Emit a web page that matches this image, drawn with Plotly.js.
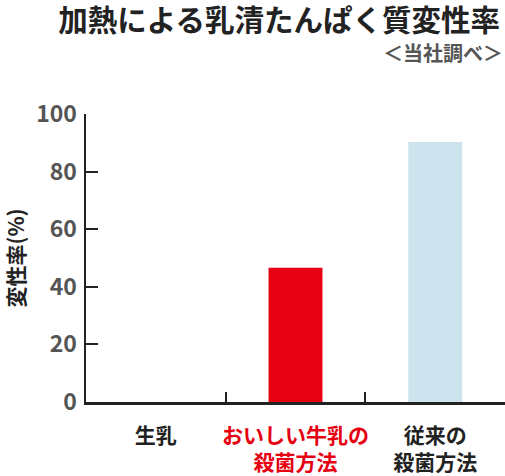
<!DOCTYPE html>
<html>
<head>
<meta charset="utf-8">
<script src="https://cdn.plot.ly/plotly-3.0.1.min.js"></script>
<style>
  html, body { margin: 0; padding: 0; background: #fff; }
  #chart { width: 505px; height: 476px; }
</style>
</head>
<body>
<div id="chart"></div>
<script>
// data
const categories = ['生乳', 'おいしい牛乳の殺菌方法', '従来の殺菌方法']
const tickLabels = [
    '生乳',
    '<span style="color:#e60012">おいしい牛乳の</span><br><span style="color:#e60012">殺菌方法</span>',
    '従来の<br>殺菌方法'
]
const denatureRate = [0, 46.6, 90.3]
const barColors = ['#e60012', '#e60012', '#cde3ee']

const FONT = '"Noto Sans CJK JP", "Noto Sans", sans-serif'
const dark = '#222222'
const gray = '#555555'

var trace = {
    x: categories,
    y: denatureRate,
    type: 'bar',
    width: 0.386,
    marker: { color: barColors, line: { width: 0 } },
    hoverinfo: 'skip',
}

var layout = {
    width: 505,
    height: 476,
    showlegend: false,
    paper_bgcolor: '#ffffff',
    plot_bgcolor: '#ffffff',
    margin: { l: 86, r: 0, t: 114, b: 74 },
    font: { family: FONT, color: dark, weight: 'bold' },
    title: {
        text: '<b>加熱による乳清たんぱく質変性率</b>',
        font: { family: FONT, size: 29.5, color: dark },
        xref: 'container', x: 0.99, xanchor: 'right',
        yref: 'container', y: 1 - 21 / 476, yanchor: 'middle',
    },
    xaxis: {
        type: 'category',
        range: [-0.5, 2.5],
        tickmode: 'array',
        tickvals: categories,
        ticktext: tickLabels,
        tickangle: 0,
        tickson: 'boundaries',
        ticks: 'inside',
        ticklen: 10,
        tickwidth: 2,
        tickcolor: dark,
        showline: true,
        linecolor: dark,
        linewidth: 2.5,
        showgrid: false,
        zeroline: false,
        fixedrange: true,
        automargin: false,
        ticklabelstandoff: 13,
        tickfont: { family: FONT, size: 21, color: dark, weight: 'bold' },
    },
    yaxis: {
        range: [0, 100],
        tickvals: [0, 20, 40, 60, 80, 100],
        ticks: 'inside',
        ticklen: 12,
        tickwidth: 2,
        tickcolor: dark,
        showline: true,
        linecolor: dark,
        linewidth: 2.5,
        showgrid: false,
        zeroline: false,
        fixedrange: true,
        automargin: false,
        ticklabelstandoff: 2,
        tickfont: { family: FONT, size: 23, color: gray, weight: 'bold' },
        title: {
            text: '<b>変性率(%)</b>',
            font: { family: FONT, size: 21, color: dark },
            standoff: 10,
        },
    },
    annotations: [{
        text: '<b>＜当社調べ＞</b>',
        xref: 'paper', x: 1, xanchor: 'right',
        yref: 'paper', y: (402 - 53) / 288, yanchor: 'middle',
        showarrow: false,
        font: { family: FONT, size: 20, color: gray },
    }],
}

Plotly.newPlot('chart', [trace], layout, { displayModeBar: false, staticPlot: true })
</script>
</body>
</html>
